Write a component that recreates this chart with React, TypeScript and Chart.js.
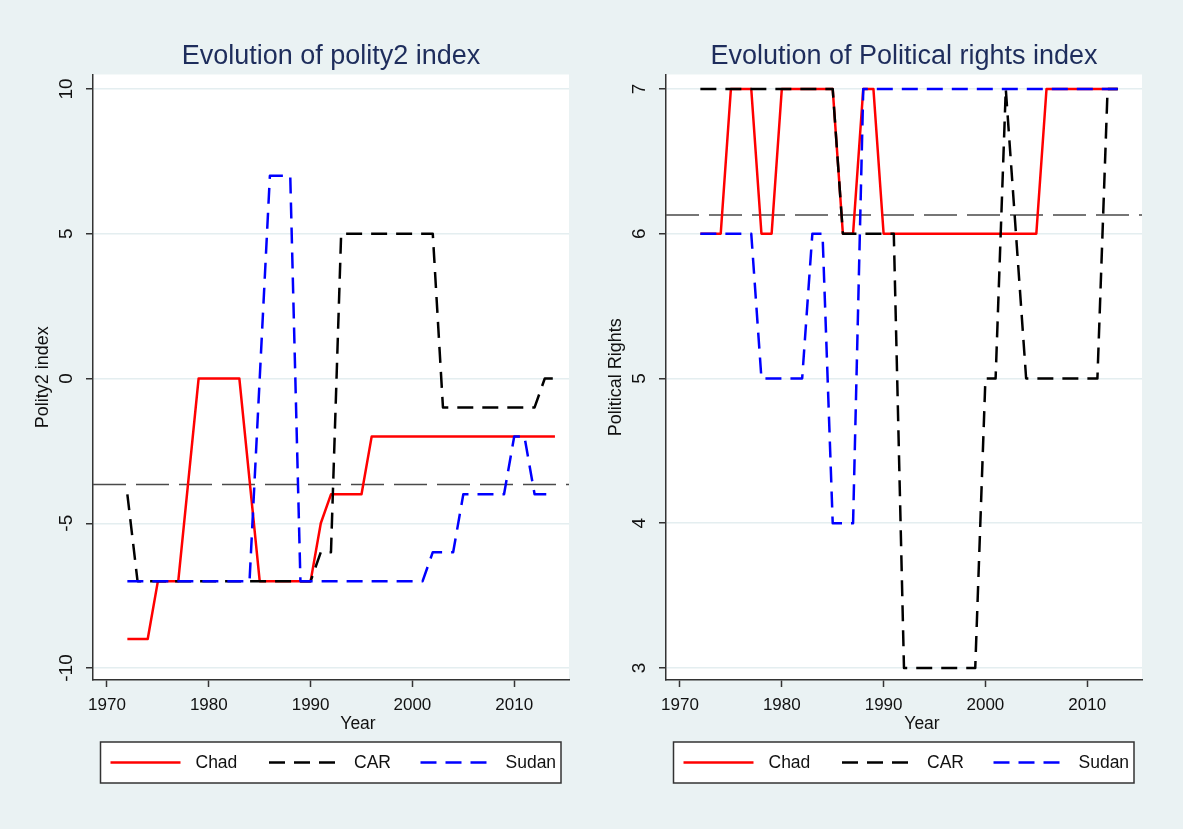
import React, { useEffect, useRef } from 'react';
import { Chart, registerables } from 'chart.js';

Chart.register(...registerables);

// ---------- data ----------
const polityYears = [1972, 1973, 1974, 1975, 1976, 1977, 1978, 1979, 1980, 1981, 1982, 1983, 1984, 1985, 1986, 1987, 1988, 1989, 1990, 1991, 1992, 1993, 1994, 1995, 1996, 1997, 1998, 1999, 2000, 2001, 2002, 2003, 2004, 2005, 2006, 2007, 2008, 2009, 2010, 2011, 2012, 2013, 2014];
const polityChad = [-9, -9, -9, -7, -7, -7, -3.5, 0, 0, 0, 0, 0, -3.5, -7, -7, -7, -7, -7, -7, -5, -4, -4, -4, -4, -2, -2, -2, -2, -2, -2, -2, -2, -2, -2, -2, -2, -2, -2, -2, -2, -2, -2, -2];
const polityCAR = [-4, -7, -7, -7, -7, -7, -7, -7, -7, -7, -7, -7, -7, -7, -7, -7, -7, -7, -7, -6, -6, 5, 5, 5, 5, 5, 5, 5, 5, 5, 5, -1, -1, -1, -1, -1, -1, -1, -1, -1, -1, 0, 0];
const politySudan = [-7, -7, -7, -7, -7, -7, -7, -7, -7, -7, -7, -7, -7, 0, 7, 7, 7, -7, -7, -7, -7, -7, -7, -7, -7, -7, -7, -7, -7, -7, -6, -6, -6, -4, -4, -4, -4, -4, -2, -2, -4, -4, -4];
const polityTicks = [-10, -5, 0, 5, 10];
const polityMean = -3.66;

const rightsYears = [1972, 1973, 1974, 1975, 1976, 1977, 1978, 1979, 1980, 1981, 1982, 1983, 1984, 1985, 1986, 1987, 1988, 1989, 1990, 1991, 1992, 1993, 1994, 1995, 1996, 1997, 1998, 1999, 2000, 2001, 2002, 2003, 2004, 2005, 2006, 2007, 2008, 2009, 2010, 2011, 2012, 2013];
const rightsChad = [6, 6, 6, 7, 7, 7, 6, 6, 7, 7, 7, 7, 7, 7, 6, 6, 7, 7, 6, 6, 6, 6, 6, 6, 6, 6, 6, 6, 6, 6, 6, 6, 6, 6, 7, 7, 7, 7, 7, 7, 7, 7];
const rightsCAR = [7, 7, 7, 7, 7, 7, 7, 7, 7, 7, 7, 7, 7, 7, 6, 6, 6, 6, 6, 6, 3, 3, 3, 3, 3, 3, 3, 3, 5, 5, 7, 6, 5, 5, 5, 5, 5, 5, 5, 5, 7, 7];
const rightsSudan = [6, 6, 6, 6, 6, 6, 5, 5, 5, 5, 5, 6, 6, 4, 4, 4, 7, 7, 7, 7, 7, 7, 7, 7, 7, 7, 7, 7, 7, 7, 7, 7, 7, 7, 7, 7, 7, 7, 7, 7, 7, 7];
const rightsTicks = [3, 4, 5, 6, 7];
const rightsMean = 6.13;

const yearTicks = [1970, 1980, 1990, 2000, 2010];
const seriesNames = ['Chad', 'CAR', 'Sudan'];
const seriesColors = ['#ff0000', '#000000', '#0000ff'];
const seriesDashes: number[][] = [[], [16, 9], [16, 9]];

// ---------- styling ----------
const FONT = '"Liberation Sans", Arial, Helvetica, sans-serif';
const BG = '#eaf2f3';
const AXIS = '#333333';
const GRID = '#e4eef0';
const TITLE_COLOR = '#1e2d5c';
const CANVAS_H = 829;

type PanelProps = {
  left: number;
  width: number;
  yAxisWidth: number;
  rightPad: number;
  xTitleShift: number;
  title: string;
  yTitle: string;
  years: number[];
  series: number[][];
  yTicks: number[];
  yMin: number;
  yMax: number;
  mean: number;
};

function Panel(p: PanelProps) {
  const ref = useRef<HTMLCanvasElement>(null);

  useEffect(() => {
    if (!ref.current) return;

    const decor = {
      id: 'panelDecor',
      beforeDraw(chart: any) {
        const { ctx, chartArea: a } = chart;
        ctx.save();
        ctx.fillStyle = '#ffffff';
        ctx.fillRect(a.left, a.top, a.right - a.left, a.bottom - a.top);
        ctx.restore();
      },
      beforeDatasetsDraw(chart: any) {
        const { ctx, chartArea: a } = chart;
        const y = chart.scales.y.getPixelForValue(p.mean);
        ctx.save();
        ctx.beginPath();
        ctx.rect(a.left, a.top, a.right - a.left, a.bottom - a.top);
        ctx.clip();
        ctx.strokeStyle = '#4a4a4a';
        ctx.lineWidth = 1.5;
        ctx.setLineDash([33, 10]);
        ctx.beginPath();
        ctx.moveTo(a.left, y);
        ctx.lineTo(a.right, y);
        ctx.stroke();
        ctx.restore();
      },
      afterDraw(chart: any) {
        const { ctx, chartArea: a } = chart;
        const ys = chart.scales.y;
        const cx = (a.left + a.right) / 2;
        ctx.save();
        // title
        ctx.fillStyle = TITLE_COLOR;
        ctx.font = `27px ${FONT}`;
        ctx.textAlign = 'center';
        ctx.textBaseline = 'middle';
        ctx.fillText(p.title, cx, 57);

        // y tick labels (rotated)
        ctx.fillStyle = '#111111';
        ctx.font = `19px ${FONT}`;
        ys.ticks.forEach((t: any) => {
          const py = ys.getPixelForValue(t.value);
          ctx.save();
          ctx.translate(a.left - 26.5, py);
          ctx.rotate(-Math.PI / 2);
          ctx.textAlign = 'center';
          ctx.textBaseline = 'middle';
          ctx.fillText(String(t.value), 0, 0);
          ctx.restore();
        });

        // y title
        ctx.font = `18px ${FONT}`;
        ctx.save();
        ctx.translate(a.left - 50, (a.top + a.bottom) / 2);
        ctx.rotate(-Math.PI / 2);
        ctx.textAlign = 'center';
        ctx.textBaseline = 'middle';
        ctx.fillText(p.yTitle, 0, 0);
        ctx.restore();

        // x title
        ctx.font = `17.5px ${FONT}`;
        ctx.textAlign = 'center';
        ctx.textBaseline = 'middle';
        ctx.fillText('Year', cx + p.xTitleShift, 724);

        // legend
        const bx = a.left + 7.5;
        const bw = a.right - 8 - bx;
        const by = 742;
        const bh = 41;
        ctx.fillStyle = '#ffffff';
        ctx.fillRect(bx, by, bw, bh);
        ctx.strokeStyle = AXIS;
        ctx.lineWidth = 1.5;
        ctx.strokeRect(bx, by, bw, bh);
        const ly = by + bh / 2;
        const offsets = [10, 168.5, 320];
        seriesNames.forEach((name, i) => {
          const x0 = bx + offsets[i];
          ctx.save();
          ctx.strokeStyle = seriesColors[i];
          ctx.lineWidth = 2.5;
          ctx.setLineDash(seriesDashes[i]);
          ctx.beginPath();
          ctx.moveTo(x0, ly);
          ctx.lineTo(x0 + 70, ly);
          ctx.stroke();
          ctx.restore();
          ctx.fillStyle = '#111111';
          ctx.font = `17.5px ${FONT}`;
          ctx.textAlign = 'left';
          ctx.textBaseline = 'middle';
          ctx.fillText(name, x0 + 85, ly + 0.5);
        });
        ctx.restore();
      },
    };

    const order = [2, 1, 0]; // Sudan on top, then CAR, then Chad
    const datasets = order.map((i) => ({
      label: seriesNames[i],
      data: p.years.map((yr, k) => ({ x: yr, y: p.series[i][k] })),
      borderColor: seriesColors[i],
      backgroundColor: seriesColors[i],
      borderWidth: 2.5,
      borderDash: seriesDashes[i],
      borderCapStyle: 'butt',
      borderJoinStyle: 'round',
      pointRadius: 0,
      tension: 0,
      fill: false,
    }));

    const chart = new Chart(ref.current, {
      type: 'line',
      data: { datasets } as any,
      plugins: [decor],
      options: {
        animation: false,
        responsive: false,
        devicePixelRatio: 1,
        events: [],
        layout: { padding: { left: 0, right: p.rightPad, top: 74.5, bottom: 0 } },
        plugins: { legend: { display: false }, title: { display: false }, tooltip: { enabled: false } },
        scales: {
          x: {
            type: 'linear',
            min: 1968.625,
            max: 2015.38,
            afterBuildTicks: (s: any) => {
              s.ticks = yearTicks.map((v) => ({ value: v }));
            },
            afterFit: (s: any) => {
              s.height = CANVAS_H - 680;
              s.paddingLeft = 0;
              s.paddingRight = 0;
            },
            grid: { drawOnChartArea: false, drawTicks: true, tickLength: 7, tickColor: AXIS, tickWidth: 1.5 },
            border: { display: true, color: AXIS, width: 1.5 },
            ticks: {
              autoSkip: false,
              maxRotation: 0,
              minRotation: 0,
              padding: 8,
              color: '#111111',
              font: { family: FONT, size: 17 },
              callback: (v: any) => String(v),
            },
          },
          y: {
            type: 'linear',
            min: p.yMin,
            max: p.yMax,
            afterBuildTicks: (s: any) => {
              s.ticks = p.yTicks.map((v) => ({ value: v }));
            },
            afterFit: (s: any) => {
              s.width = p.yAxisWidth;
              s.paddingTop = 0;
              s.paddingBottom = 0;
            },
            grid: { color: GRID, lineWidth: 1.5, drawTicks: true, tickLength: 7, tickColor: AXIS, tickWidth: 1.5 },
            border: { display: true, color: AXIS, width: 1.5 },
            ticks: { display: false },
          },
        },
      } as any,
    });
    return () => chart.destroy();
  }, []);

  return (
    <canvas
      ref={ref}
      width={p.width}
      height={CANVAS_H}
      style={{ position: 'absolute', left: p.left, top: 0, width: p.width, height: CANVAS_H, display: 'block' }}
    />
  );
}

export default function App() {
  return (
    <div
      style={{
        position: 'fixed',
        left: 0,
        top: 0,
        width: 1183,
        height: CANVAS_H,
        background: BG,
        overflow: 'hidden',
      }}
    >
      <Panel
        left={0}
        width={592}
        yAxisWidth={93}
        rightPad={23}
        xTitleShift={27}
        title="Evolution of polity2 index"
        yTitle="Polity2 index"
        years={polityYears}
        series={[polityChad, polityCAR, politySudan]}
        yTicks={polityTicks}
        yMin={-10.414}
        yMax={10.5}
        mean={polityMean}
      />
      <Panel
        left={592}
        width={591}
        yAxisWidth={74}
        rightPad={41}
        xTitleShift={18}
        title="Evolution of Political rights index"
        yTitle="Political Rights"
        years={rightsYears}
        series={[rightsChad, rightsCAR, rightsSudan]}
        yTicks={rightsTicks}
        yMin={2.917}
        yMax={7.1}
        mean={rightsMean}
      />
    </div>
  );
}
